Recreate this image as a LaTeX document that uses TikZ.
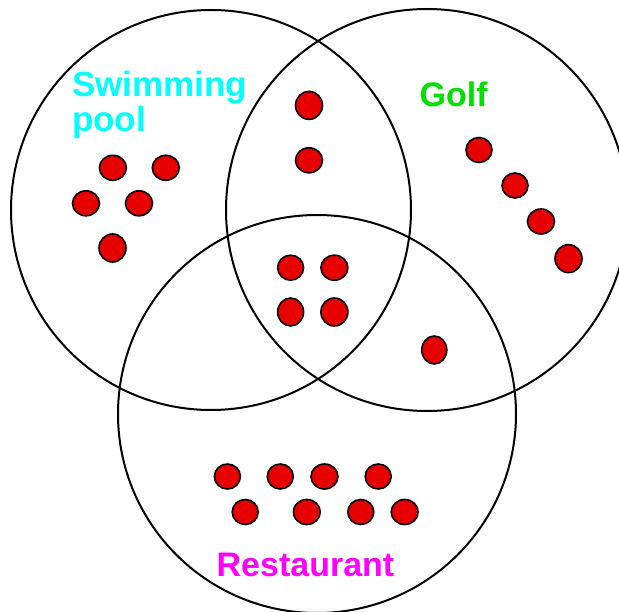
\documentclass[tikz,border=0pt]{standalone}
\usepackage{fontspec}
\setmainfont{Liberation Sans}
\usetikzlibrary{shapes.geometric}
\definecolor{dotred}{HTML}{E60000}
\definecolor{golfgreen}{HTML}{00E000}
\definecolor{poolcyan}{HTML}{00FFFF}
\definecolor{restmag}{HTML}{FF00FF}
\begin{document}
\begin{tikzpicture}[x=1pt,y=-1pt,
  ring/.style={draw=black,line width=2pt},
  dot/.style={draw=black,fill=dotred,line width=1.6pt,ellipse,inner sep=0pt,minimum width=27pt,minimum height=25pt},
  lbl/.style={anchor=base west,font=\bfseries\fontsize{35}{36}\selectfont,inner sep=0pt}]
\useasboundingbox (0,0) rectangle (619,612);
\clip (0,0) rectangle (619,612);
\fill[white] (0,0) rectangle (619,612);
% circles
\draw[ring] (211,210) circle (200);
\draw[ring] (427,210) circle (201);
\draw[ring] (317,414) circle (199);
% labels
\node[lbl,text=poolcyan] (sw) at (72,96.7) {Swimming};
\node[lbl,text=poolcyan] (pool) at (72,132) {pool};
\node[lbl,text=golfgreen,font=\bfseries\fontsize{34}{36}\selectfont] (golf) at (419.5,106.6) {Golf};
\node[lbl,text=restmag,font=\bfseries\fontsize{34}{36}\selectfont] (rest) at (216.5,576.4) {Restaurant};
% swimming only
\node[dot] (s1) at (112.9,167.8) {};
\node[dot] (s2) at (165.8,167.8) {};
\node[dot] (s3) at (86,203.3) {};
\node[dot] (s4) at (139,203.3) {};
\node[dot,minimum height=28pt] (s5) at (112.5,248) {};
% swimming & golf
\node[dot,minimum height=28pt] (sg1) at (309,105.4) {};
\node[dot] (sg2) at (309,160.3) {};
% golf only
\node[dot,minimum width=26pt] (g1) at (479,150) {};
\node[dot,minimum width=26pt] (g2) at (515,185.5) {};
\node[dot] (g3) at (541,221.5) {};
\node[dot,minimum height=28pt] (g4) at (568.5,258.6) {};
% all three
\node[dot,minimum width=26pt] (a1) at (290.6,267.7) {};
\node[dot] (a2) at (334.4,267.7) {};
\node[dot,minimum width=26pt,minimum height=28pt] (a3) at (290.6,312) {};
\node[dot,minimum height=28pt] (a4) at (334.4,312) {};
% golf & restaurant
\node[dot,minimum width=25pt,minimum height=28pt] (gr1) at (434.3,350) {};
% restaurant only
\node[dot,minimum width=26pt] (r1) at (227.4,476.5) {};
\node[dot,minimum width=26pt] (r2) at (280.3,476.5) {};
\node[dot] (r3) at (324.5,476.5) {};
\node[dot,minimum width=26pt] (r4) at (378.2,476.5) {};
\node[dot,minimum width=26pt] (r5) at (245.2,512) {};
\node[dot] (r6) at (306.8,512) {};
\node[dot,minimum width=26pt] (r7) at (360.8,512) {};
\node[dot] (r8) at (404.7,512) {};
\end{tikzpicture}
\end{document}
